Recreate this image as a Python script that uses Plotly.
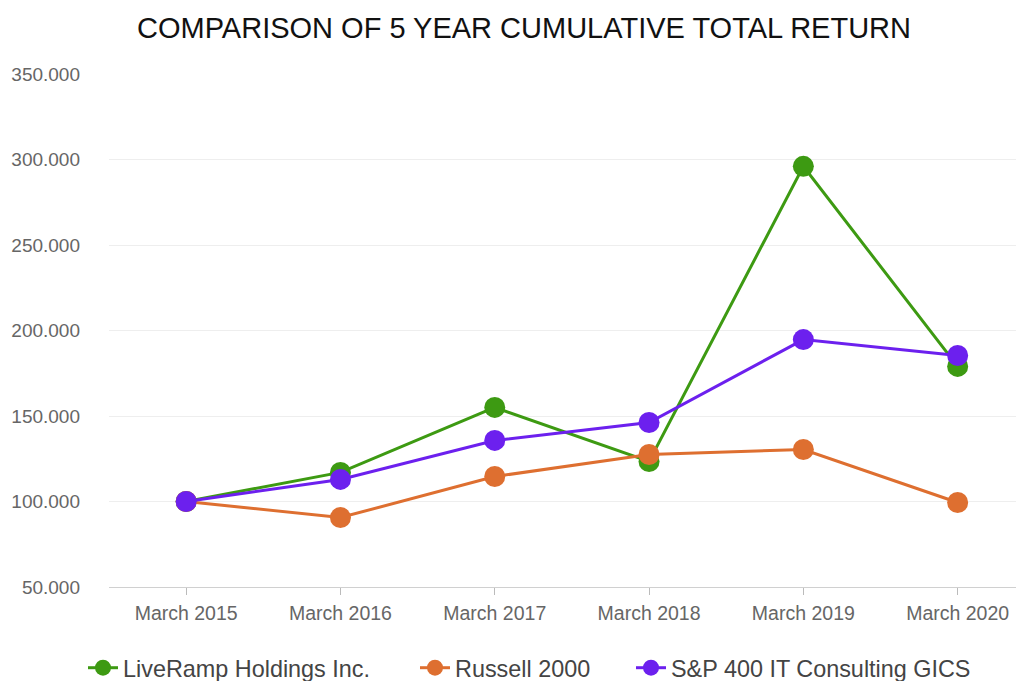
import plotly.graph_objects as go

categories = ["March 2015", "March 2016", "March 2017", "March 2018", "March 2019", "March 2020"]
liveramp = [100.0, 117.0, 155.0, 123.4, 296.0, 179.0]
russell = [100.0, 90.6, 114.6, 127.5, 130.4, 99.4]
sp400 = [100.0, 112.9, 135.7, 146.2, 194.7, 185.4]
y_ticks = [50, 100, 150, 200, 250, 300, 350]

series = [
    ("LiveRamp Holdings Inc.", liveramp, "#3d9a12", "legend"),
    ("Russell 2000", russell, "#de6f30", "legend2"),
    ("S&P 400 IT Consulting GICS", sp400, "#6c20ee", "legend3"),
]

W, H = 1016, 673
fig = go.Figure()
for name, vals, col, lg in series:
    fig.add_trace(go.Scatter(
        x=categories, y=vals, name=name, mode="lines+markers",
        line=dict(color=col, width=3),
        marker=dict(color=col, size=21),
        legend=lg,
    ))

leg_common = dict(orientation="h", xref="container", yref="container",
                  xanchor="left", yanchor="middle", y=1 - 660 / H,
                  font=dict(size=23.4, color="#444444"), bgcolor="rgba(0,0,0,0)")

fig.update_layout(
    width=W, height=H,
    paper_bgcolor="white", plot_bgcolor="white",
    margin=dict(l=101, r=0, t=66, b=94, autoexpand=False),
    font=dict(family="Liberation Sans, Arial, sans-serif", color="#666666"),
    title=dict(text="COMPARISON OF 5 YEAR CUMULATIVE TOTAL RETURN",
               x=516 / W, xanchor="center", y=1 - 20 / H, yanchor="middle",
               font=dict(size=29, color="#111111")),
    showlegend=True,
    legend=dict(x=75 / W, **leg_common),
    legend2=dict(x=407 / W, **leg_common),
    legend3=dict(x=623 / W, **leg_common),
)
fig.update_xaxes(
    type="category", range=[-0.5, 5.43],
    showgrid=False, showline=True, linecolor="#d0d0d0", linewidth=1,
    ticks="outside", ticklen=7, tickcolor="#bbbbbb",
    tickfont=dict(size=19.5, color="#666666"), ticklabelstandoff=2,
)
fig.update_yaxes(
    range=[50, 350], tickvals=y_ticks, tickformat=".3f",
    showgrid=True, gridcolor="#eeeeee", gridwidth=1,
    zeroline=False, showline=False,
    tickfont=dict(size=19, color="#666666"), ticklabelstandoff=28,
)
fig.write_html("out.html")
